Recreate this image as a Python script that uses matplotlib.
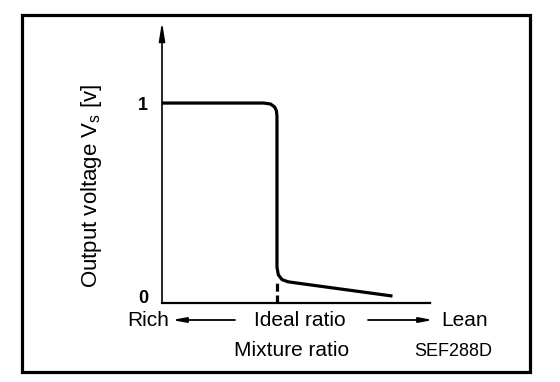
import matplotlib
matplotlib.use("Agg")
import matplotlib.pyplot as plt
from matplotlib.patches import Rectangle

plt.rcParams["font.family"] = ["Liberation Sans", "DejaVu Sans"]
plt.rcParams["mathtext.fontset"] = "custom"
plt.rcParams["mathtext.rm"] = "Liberation Sans"

# Curva de salida del sensor de O2
mezcla = [0, 20, 38, 40.5, 42.0, 42.7, 42.9, 42.9, 43.4, 44.8, 47.0, 50.0, 86.0]
voltaje = [1.0, 1.0, 1.0, 0.995, 0.98, 0.96, 0.93, 0.15, 0.11, 0.085, 0.074, 0.068, 0.0]
ideal = 42.9
y_ticks = [0, 1]
y_labels = ["0", "1"]

W, H = 560, 382


def fx(px):
    return px / W


def fy(py):
    return 1 - py / H


fig = plt.figure(figsize=(W / 100, H / 100), dpi=100)
ax = fig.add_axes([fx(162), fy(303), fx(430) - fx(162), fy(22) - fy(303)])
ax.set_xlim(0, 100)
ax.set_ylim(-0.036, 1.42)

ax.plot(mezcla, voltaje, color="black", lw=2.3, solid_capstyle="butt",
        solid_joinstyle="round")
ax.plot([ideal, ideal], [-0.036, 0.07], color="black", lw=2.3,
        ls=(0, (2.5, 1.2)))

for s in ["top", "right", "left"]:
    ax.spines[s].set_visible(False)
ax.spines["bottom"].set_linewidth(1.6)
ax.annotate("", xy=(0, 1), xytext=(0, 0), xycoords="axes fraction",
            arrowprops=dict(arrowstyle="-|>,head_length=1.1,head_width=0.18",
                            color="black", lw=1.2, shrinkA=0, shrinkB=0))

ax.set_xticks([])
ax.set_yticks(y_ticks)
ax.set_yticklabels(y_labels, fontsize=13, fontweight="bold")
ax.tick_params(axis="y", length=0, pad=10)

fig.text(fx(91), fy(186), "Output voltage V$_{\\mathregular{s}}$ [v]",
         rotation=90, ha="center", va="center", fontsize=16)

fila = fy(320)
fig.text(fx(148), fila, "Rich", ha="center", va="center", fontsize=15)
fig.text(fx(300), fila, "Ideal ratio", ha="center", va="center", fontsize=15)
fig.text(fx(465), fila, "Lean", ha="center", va="center", fontsize=15)
flecha = dict(arrowstyle="-|>,head_length=0.8,head_width=0.15", color="black",
              lw=1.3, shrinkA=0, shrinkB=0)
fig.add_artist(plt.Annotation("", xy=(fx(172), fila), xytext=(fx(235), fila),
                              xycoords="figure fraction", arrowprops=flecha))
fig.add_artist(plt.Annotation("", xy=(fx(433), fila), xytext=(fx(368), fila),
                              xycoords="figure fraction", arrowprops=flecha))
fig.text(fx(292), fy(350), "Mixture ratio", ha="center", va="center", fontsize=15)
fig.text(fx(453), fy(352), "SEF288D", ha="center", va="center", fontsize=13)

fig.add_artist(Rectangle((fx(21.5), fy(371.5)), fx(529.5) - fx(21.5),
                         fy(14.5) - fy(371.5), transform=fig.transFigure,
                         fill=False, lw=2.3, edgecolor="black"))

fig.savefig("out.png", dpi=100)
